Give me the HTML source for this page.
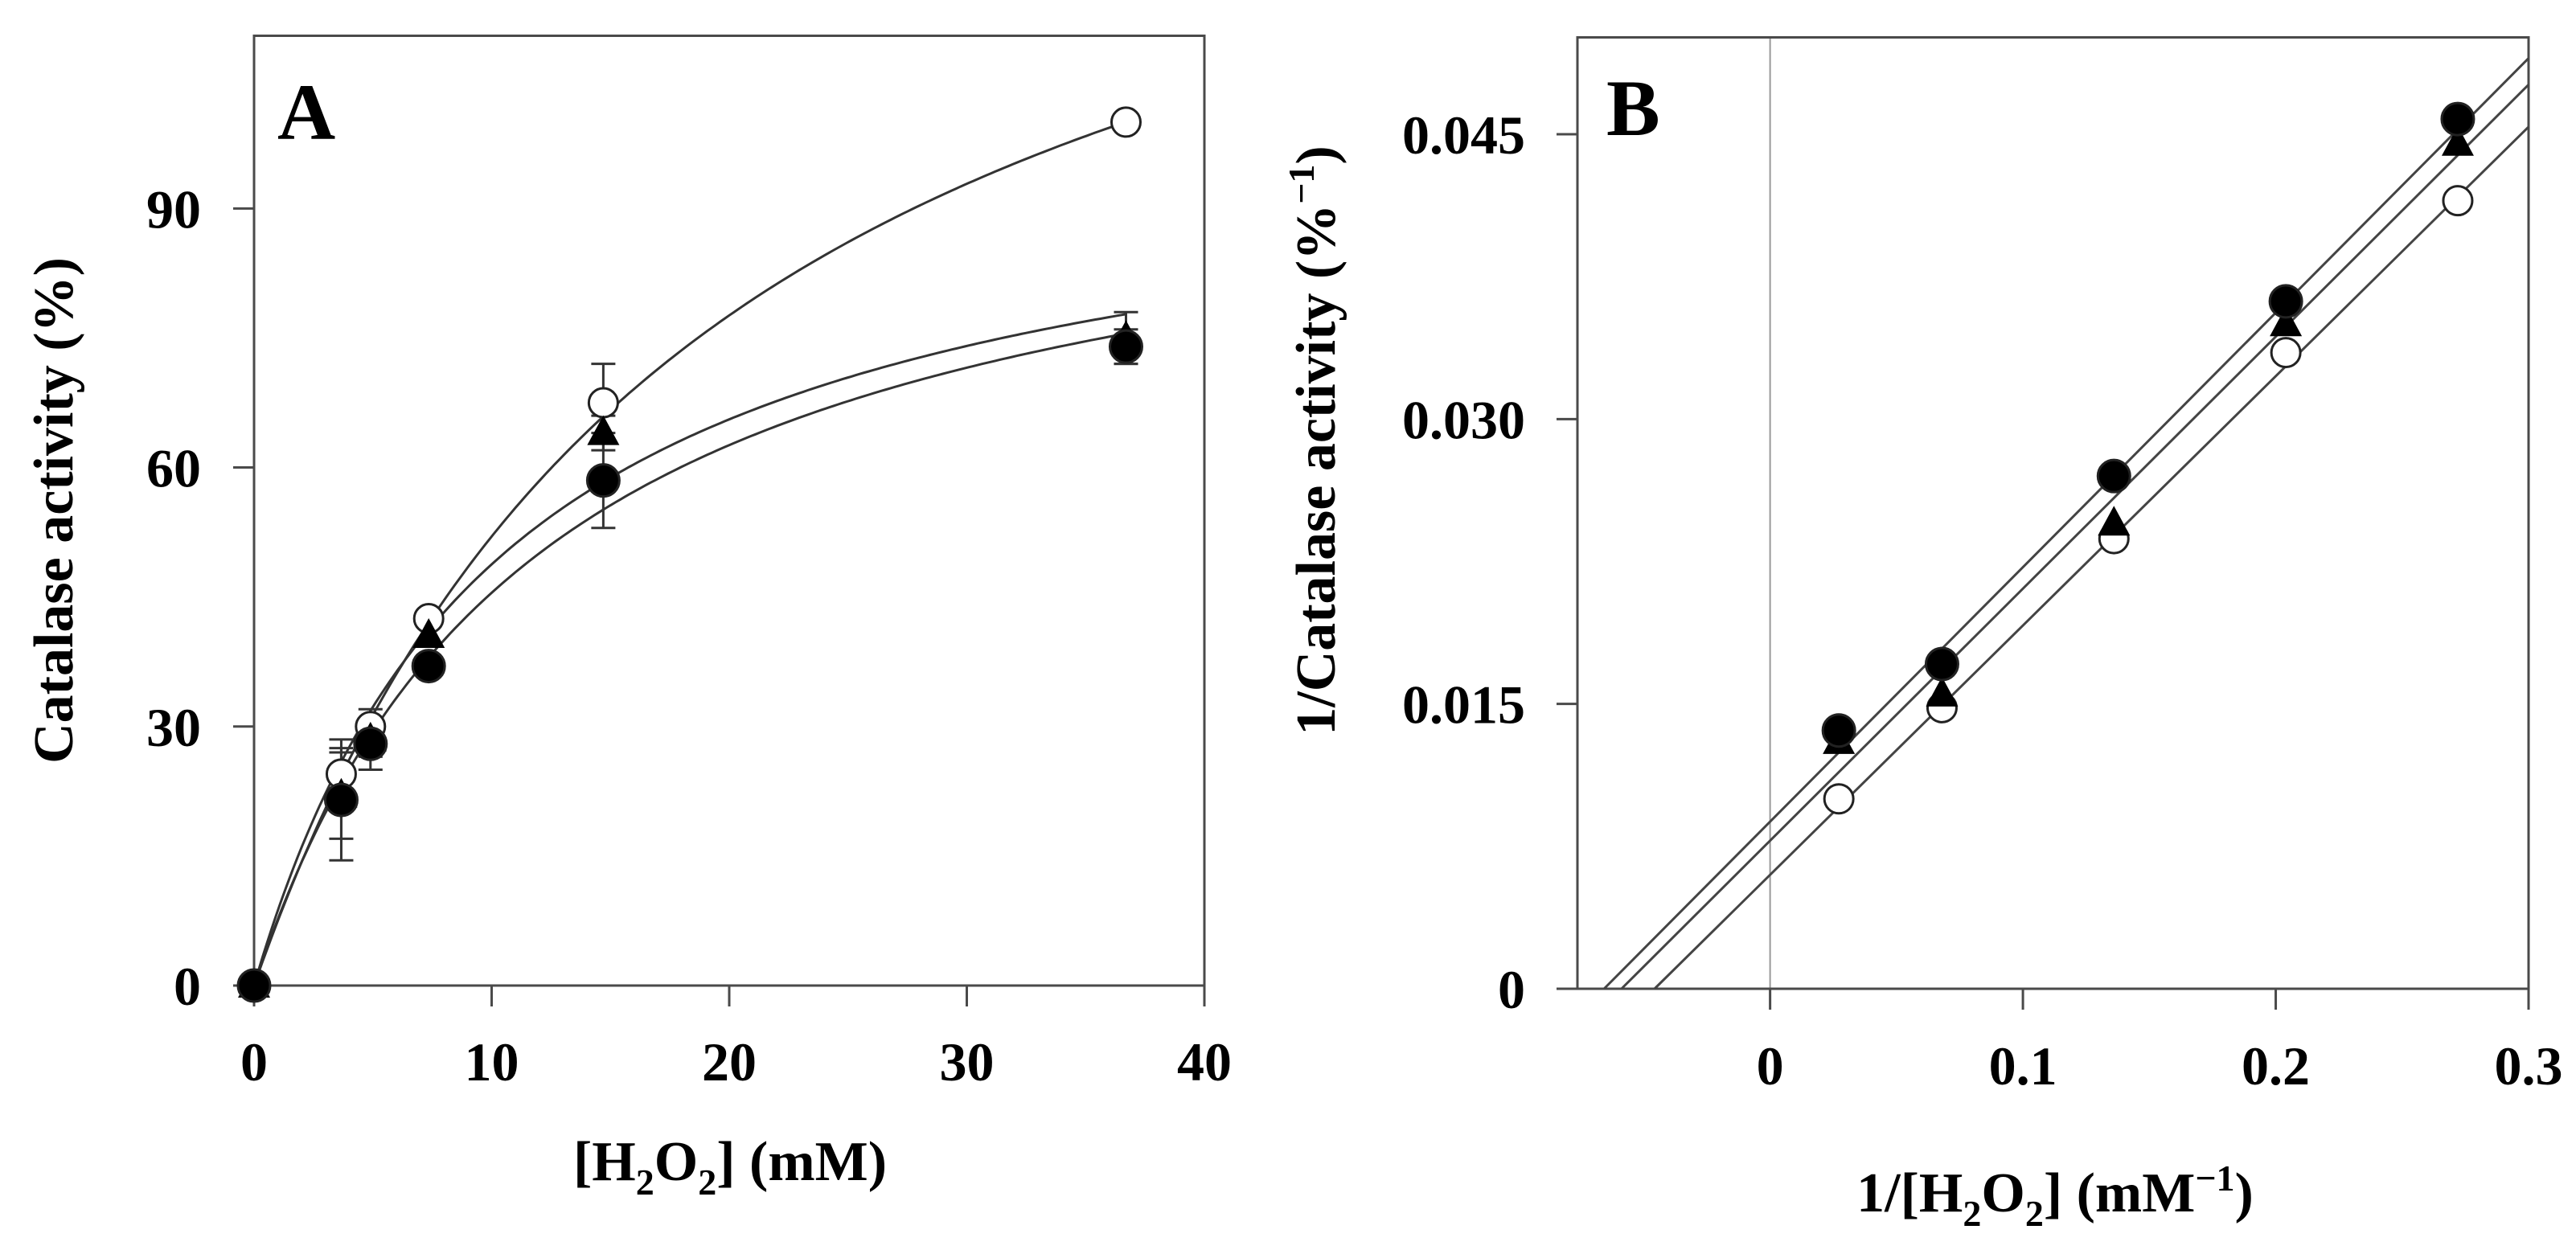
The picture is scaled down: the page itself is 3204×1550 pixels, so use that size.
<!DOCTYPE html>
<html><head><meta charset="utf-8"><style>
html,body{margin:0;padding:0;background:#fff;}
svg{display:block;font-family:"Liberation Serif",serif;font-weight:bold;}
</style></head><body>
<svg id="fig" width="3204" height="1550" viewBox="0 0 3204 1550" xmlns="http://www.w3.org/2000/svg">
<g id="pa"></g>
<g id="pb"></g>
</svg>
<script>
// Panel A data
const aX = [0, 3.67, 4.9, 7.35, 14.7, 36.7];
const aOpen = [0, 24.5, 30, 42.5, 67.5, 100];
const aTri = [0, 22, 28.5, 40.5, 64, 75];
const aFill = [0, 21.5, 28, 37, 58.5, 74];
const aOpenErr = [0, 3, 2, 1, 4.5, 1];
const aTriErr = [0, 5, 2, 1, 2, 3];
const aFillErr = [0, 7, 3, 1, 5.5, 2];
const aVmax = [152.9, 100, 100.3];
const aKm = [19.4, 10.5, 12.05];
const aXTicks = [0, 10, 20, 30, 40];
const aYTicks = [0, 30, 60, 90];
// Panel B data
const bX = [0.0272, 0.068, 0.136, 0.204, 0.272];
const bFill = [0.0136, 0.0171, 0.0270, 0.0362, 0.0458];
const bTri = [0.0130, 0.0155, 0.0245, 0.0350, 0.0445];
const bOpen = [0.0100, 0.0148, 0.0237, 0.0335, 0.0415];
const bSlope = [0.134, 0.1327, 0.1313];
const bIntercept = [0.0088, 0.0078, 0.0060];
const bXTicks = [0, 0.1, 0.2, 0.3];
const bXLabels = ["0", "0.1", "0.2", "0.3"];
const bYTicks = [0, 0.015, 0.030, 0.045];
const bYLabels = ["0", "0.015", "0.030", "0.045"];

const NS = "http://www.w3.org/2000/svg";
function mk(parent, tag, attrs, text){
  const e = document.createElementNS(NS, tag);
  for (const k in attrs) e.setAttribute(k, attrs[k]);
  if (text !== undefined) e.textContent = text;
  parent.appendChild(e);
  return e;
}
const AXC = "#4a4a4a";

// ---------- Panel A ----------
const pa = document.getElementById('pa');
const ax = v => 316 + (v - 0) / 40 * (1498 - 316);
const ay = v => 1226 - v / 110 * (1226 - 44.5);
let fr = mk(pa, 'rect', {x:316, y:44.5, width:1498-316, height:1226-44.5, fill:'none', stroke:AXC, 'stroke-width':3});


aXTicks.forEach(t => {
  let l = mk(pa, 'line', {x1:ax(t), x2:ax(t), y1:1226, y2:1252, stroke:AXC, 'stroke-width':3});
  
  
  let tx = mk(pa, 'text', {x:ax(t), y:1344, 'font-size':68, 'text-anchor':'middle'}, String(t));
  
  
});
aYTicks.forEach(t => {
  let l = mk(pa, 'line', {x1:290, x2:316, y1:ay(t), y2:ay(t), stroke:AXC, 'stroke-width':3});
  
  
  let tx = mk(pa, 'text', {x:250, y:ay(t)+24, 'font-size':68, 'text-anchor':'end'}, String(t));
  
  
});
let la = mk(pa, 'text', {x:345, y:173, 'font-size':100}, 'A');


let yta = mk(pa, 'text', {x:0, y:0, 'font-size':70, 'text-anchor':'middle', transform:'translate(90,635) rotate(-90)'}, 'Catalase activity (%)');


let xta = mk(pa, 'text', {x:908, y:1468, 'font-size':70, 'text-anchor':'middle'});


xta.innerHTML = '[H<tspan font-size="46" dy="18">2</tspan><tspan dy="-18">O</tspan><tspan font-size="46" dy="18">2</tspan><tspan dy="-18">] (mM)</tspan>';
aVmax.forEach((V, i) => {
  let d = '';
  for (let k = 0; k <= 200; k++) {
    const xv = 36.7 * k / 200;
    const yv = V * xv / (aKm[i] + xv);
    d += (k ? 'L' : 'M') + ax(xv).toFixed(1) + ',' + ay(yv).toFixed(1);
  }
  let p = mk(pa, 'path', {d:d, fill:'none', stroke:'#333', 'stroke-width':3});
  
  
});
function errbars(g, xs, ys, es, X, Y){
  xs.forEach((x, i) => {
    if (!es[i]) return;
    const cx = X(x), y1 = Y(ys[i]-es[i]), y2 = Y(ys[i]+es[i]);
    let e = mk(g, 'path', {d:`M${cx},${y1}V${y2}M${cx-15},${y1}H${cx+15}M${cx-15},${y2}H${cx+15}`, stroke:'#333', 'stroke-width':3, fill:'none'});
    
    
  });
}
function circles(g, xs, ys, X, Y, filled, name){
  xs.forEach((x, i) => {
    let c = mk(g, 'circle', {cx:X(x), cy:Y(ys[i]), r: filled ? 20 : 18, fill: filled ? '#000' : '#fff', stroke:'#222', 'stroke-width':3});
    
    
  });
}
function tris(g, xs, ys, X, Y, name){
  xs.forEach((x, i) => {
    const cx = X(x), cy = Y(ys[i]);
    let t = mk(g, 'polygon', {points:`${cx},${cy-22} ${cx+20},${cy+15} ${cx-20},${cy+15}`, fill:'#000'});
    
    
  });
}
errbars(pa, aX, aOpen, aOpenErr, ax, ay);
errbars(pa, aX, aTri, aTriErr, ax, ay);
errbars(pa, aX, aFill, aFillErr, ax, ay);
circles(pa, aX, aOpen, ax, ay, false, 'open-circle-point');
tris(pa, aX, aTri, ax, ay, 'triangle-point');
circles(pa, aX, aFill, ax, ay, true, 'filled-circle-point');

// ---------- Panel B ----------
const pb = document.getElementById('pb');
const bxMin = -0.0762, bxMax = 0.3;
const bx = v => 1962 + (v - bxMin) / (bxMax - bxMin) * (3145 - 1962);
const by = v => 1230 - v / 0.0501 * (1230 - 46.5);
let zl = mk(pb, 'line', {x1:bx(0), x2:bx(0), y1:46.5, y2:1230, stroke:'#999', 'stroke-width':2});


let frb = mk(pb, 'rect', {x:1962, y:46.5, width:3145-1962, height:1230-46.5, fill:'none', stroke:AXC, 'stroke-width':3});


bXTicks.forEach((t, i) => {
  let l = mk(pb, 'line', {x1:bx(t), x2:bx(t), y1:1230, y2:1256, stroke:AXC, 'stroke-width':3});
  
  
  let tx = mk(pb, 'text', {x:bx(t), y:1349, 'font-size':68, 'text-anchor':'middle'}, bXLabels[i]);
  
  
});
bYTicks.forEach((t, i) => {
  let l = mk(pb, 'line', {x1:1936, x2:1962, y1:by(t), y2:by(t), stroke:AXC, 'stroke-width':3});
  
  
  let tx = mk(pb, 'text', {x:1897, y:by(t)+24, 'font-size':68, 'text-anchor':'end'}, bYLabels[i]);
  
  
});
let lb = mk(pb, 'text', {x:1998, y:168, 'font-size':100}, 'B');


let ytb = mk(pb, 'text', {x:0, y:0, 'font-size':70, 'text-anchor':'middle', transform:'translate(1660,548) rotate(-90)'});


ytb.innerHTML = '1/Catalase activity (%<tspan font-size="46" dy="-26">−1</tspan><tspan dy="26">)</tspan>';
let xtb = mk(pb, 'text', {x:2556, y:1507, 'font-size':70, 'text-anchor':'middle'});


xtb.innerHTML = '1/[H<tspan font-size="46" dy="18">2</tspan><tspan dy="-18">O</tspan><tspan font-size="46" dy="18">2</tspan><tspan dy="-18">] (mM</tspan><tspan font-size="46" dy="-26">−1</tspan><tspan dy="26">)</tspan>';
bSlope.forEach((m, i) => {
  const x0 = -bIntercept[i] / m;
  let l = mk(pb, 'line', {x1:bx(x0), y1:by(0), x2:bx(0.3), y2:by(bIntercept[i] + m*0.3), stroke:'#444', 'stroke-width':3});
  
  
});
circles(pb, bX, bOpen, bx, by, false, 'open-circle-point');
tris(pb, bX, bTri, bx, by, 'triangle-point');
circles(pb, bX, bFill, bx, by, true, 'filled-circle-point');
</script>
</body></html>
